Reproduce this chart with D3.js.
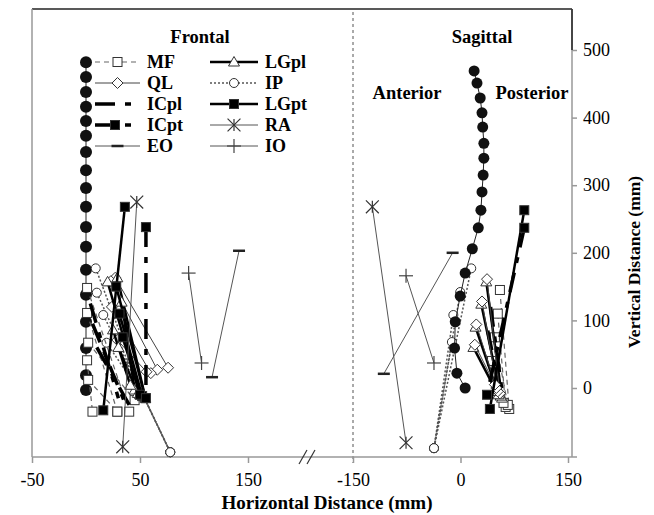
<!DOCTYPE html>
<html>
<head>
<meta charset="utf-8">
<script src="https://cdn.jsdelivr.net/npm/d3@7"></script>
<style>
  body { margin: 0; background: #fff; }
  svg text { font-family: "Liberation Serif", "Times New Roman", serif; }
</style>
</head>
<body>
<div id="chart"></div>
<script>
// ---- data (mm) ----
// spine (vertebral centres)
const frontalSpineX = [0, 0, 0, 0, 0, 0, 0, 0, 0, 0, 0, 0, 0, 0, 0, 0, 0, 0];
const frontalSpineY = [482, 460, 438, 416, 395, 373, 349, 322, 296, 268, 238, 209, 175, 138, 98, 59, 19, -3];
const sagittalSpineX = [19, 23, 27.5, 30, 31, 32.6, 32.6, 31.6, 30, 28.5, 24.8, 16.5, 6.5, -0.4, -7.3, -8.3, -5, 6.5];
const sagittalSpineY = [469, 451, 429, 407, 386, 362, 340, 315, 290, 263, 237, 206, 170, 136, 98, 59, 22, 0];

// muscle fascicles, each one a list of [x, y] points (origin ... insertion)
const frontalMF = [[[1, 148], [40, -35]], [[1, 111], [29, -35]], [[2, 67], [45, -18]], [[1, 41], [6, -35]], [[2, 12], [29, -35]]];
const frontalQL = [[[27, 163], [76, 30]], [[23, 158], [66, 27]], [[24, 120], [60, 22]], [[29, 71], [56, 24]]];
const frontalICpl = [[[4, 125], [30, -15]], [[6, 95], [36, -22]], [[10, 60], [40, -25]]];
const frontalICpt = [[[55.5, 238], [55.5, -15]]];
const frontalEO = [[[141.7, 203], [116.7, 16]]];
const frontalLGpl = [[[20, 157], [50, -10]], [[29, 163], [55, -15]], [[33, 127], [45, -3]], [[25, 86], [41, 4]], [[30, 60], [48, -8]]];
const frontalIP = [[[9, 177], [55, -18], [78, -95]], [[10, 141], [55, -18], [78, -95]], [[16, 108], [55, -18], [78, -95]], [[19, 67], [55, -18], [78, -95]]];
const frontalLGpt = [[[36, 268], [16, -33]], [[28, 150], [55, -15]], [[31, 110], [52, -12]], [[34, 75], [50, -10]]];
const frontalRA = [[[47, 275], [34, -87]]];
const frontalIO = [[[95, 170], [107, 37]]];

const sagittalMF = [[[55, 145], [68, -31]], [[52, 110], [63, -28]], [[48, 75], [66, -25]], [[44, 40], [60, -22]]];
const sagittalQL = [[[37, 161], [55, -8]], [[30, 128], [52, -5]], [[22, 94], [50, 0]], [[20, 64], [48, 5]]];
const sagittalICpl = [[[42, 120], [60, -20]], [[38, 85], [58, -18]]];
const sagittalICpt = [[[89, 237], [37, -10]]];
const sagittalEO = [[[-11, 200], [-107, 21]]];
const sagittalLGpl = [[[36, 157], [58, -15]], [[29, 124], [56, -12]], [[21, 90], [53, -10]], [[18, 60], [50, -5]]];
const sagittalIP = [[[15, 177], [-37, -89]], [[-0.4, 142], [-37, -89]], [[-10, 108], [-37, -89]], [[-12, 68], [-37, -89]]];
const sagittalLGpt = [[[89, 263], [41, -31]]];
const sagittalRA = [[[-123, 268], [-76, -81]]];
const sagittalIO = [[[-76, 166], [-37, 37]]];

const muscleNames = ["MF", "QL", "ICpl", "ICpt", "EO", "LGpl", "IP", "LGpt", "RA", "IO"];
const frontalTicks = [-50, 50, 150];
const sagittalTicks = [-150, 0, 150];
const yTicks = [0, 100, 200, 300, 400, 500];

// ---- look of each muscle ----
const style = {
  MF:   {stroke: "#666", width: 1.2, dash: "5,4", marker: "sqOpen"},
  QL:   {stroke: "#444", width: 1, dash: null, marker: "diamond"},
  ICpl: {stroke: "#000", width: 3.5, dash: "20,10,6,10", marker: null},
  ICpt: {stroke: "#000", width: 3.5, dash: "20,10,6,10", marker: "sqFill"},
  EO:   {stroke: "#555", width: 1, dash: null, marker: "minus"},
  LGpl: {stroke: "#000", width: 2.5, dash: null, marker: "triangle"},
  IP:   {stroke: "#555", width: 1.5, dash: "2,2", marker: "circleOpen"},
  LGpt: {stroke: "#000", width: 2.5, dash: null, marker: "sqFill"},
  RA:   {stroke: "#555", width: 1, dash: null, marker: "star"},
  IO:   {stroke: "#555", width: 1, dash: null, marker: "plus"}
};

const W = 654, H = 515;
const svg = d3.select("#chart").append("svg")
  .attr("width", W).attr("height", H);

// scales: two panels sharing one vertical axis
const xL = d3.scaleLinear().domain([-50, 150]).range([32, 248]);
const xR = d3.scaleLinear().domain([-150, 150]).range([353, 568]);
const y = d3.scaleLinear().domain([0, 500]).range([388, 50]);
const plotLeft = 32, plotRight = 572, plotTop = 9, plotBottom = 457;

// frame
svg.append("line").attr("x1", plotLeft).attr("x2", plotRight).attr("y1", plotTop).attr("y2", plotTop)
  .attr("stroke", "#222").attr("stroke-width", 1.5);
svg.append("line").attr("x1", plotLeft).attr("x2", plotLeft).attr("y1", plotTop).attr("y2", plotBottom)
  .attr("stroke", "#999").attr("stroke-width", 1.5);

// panel divider
svg.append("line").attr("x1", xR(-150)).attr("x2", xR(-150)).attr("y1", plotTop + 3).attr("y2", plotBottom + 6)
  .attr("stroke", "#555").attr("stroke-width", 1).attr("stroke-dasharray", "3,3");

// bottom axes
const axB = svg.append("g").attr("transform", `translate(0,${plotBottom})`);
axB.append("g").call(d3.axisBottom(xL).tickValues(frontalTicks).tickFormat(d => String(d)).tickSize(6).tickPadding(10));
axB.append("g").call(d3.axisBottom(xR).tickValues(sagittalTicks).tickFormat(d => String(d)).tickSize(6).tickPadding(10));
axB.selectAll("g").attr("font-family", null).attr("font-size", null);
axB.selectAll(".domain").remove();
axB.selectAll("line").attr("stroke", "#999").attr("stroke-width", 1.5);
axB.selectAll("text").attr("fill", "#000").style("font-size", "18px");
axB.append("line").attr("x1", plotLeft).attr("x2", plotRight + 5).attr("y1", 0).attr("y2", 0)
  .attr("stroke", "#999").attr("stroke-width", 1.5);
// axis break marks
[303, 311].forEach(bx => {
  axB.append("line").attr("x1", bx - 4).attr("x2", bx + 4).attr("y1", 7).attr("y2", -7)
    .attr("stroke", "#333").attr("stroke-width", 1.2);
});

// right y axis
const axR = svg.append("g").attr("transform", `translate(${plotRight},0)`);
axR.call(d3.axisRight(y).tickValues(yTicks).tickFormat(d => String(d)).tickSize(5).tickPadding(6));
axR.attr("font-family", null).attr("font-size", null);
axR.select(".domain").remove();
axR.append("line").attr("x1", 0).attr("x2", 0).attr("y1", plotTop).attr("y2", plotBottom)
  .attr("stroke", "#999").attr("stroke-width", 1.5);
axR.append("line").attr("x1", 0).attr("x2", 0).attr("y1", plotTop).attr("y2", y(500))
  .attr("stroke", "#222").attr("stroke-width", 1.5);
axR.selectAll(".tick line").attr("stroke", "#999").attr("stroke-width", 1.5);
axR.selectAll("text").attr("fill", "#000").style("font-size", "18px");

// axis titles
svg.append("text").attr("x", 327).attr("y", 509).attr("text-anchor", "middle")
  .style("font-size", "19px").style("font-weight", "bold").text("Horizontal Distance (mm)");
svg.append("text").attr("transform", "translate(640,262) rotate(-90)").attr("text-anchor", "middle")
  .style("font-size", "17.5px").style("font-weight", "bold").text("Vertical Distance (mm)");

// marker shapes
function drawMarker(g, type, cx, cy) {
  const s = 4.5;
  if (!type) return;
  if (type === "sqOpen" || type === "sqFill") {
    g.append("rect").attr("x", cx - s).attr("y", cy - s).attr("width", 2 * s).attr("height", 2 * s)
      .attr("fill", type === "sqFill" ? "#000" : "#fff").attr("stroke", "#333").attr("stroke-width", 1);
  } else if (type === "diamond") {
    g.append("path").attr("d", `M${cx},${cy - 5.5}L${cx + 5.5},${cy}L${cx},${cy + 5.5}L${cx - 5.5},${cy}Z`)
      .attr("fill", "#fff").attr("stroke", "#333").attr("stroke-width", 1);
  } else if (type === "triangle") {
    g.append("path").attr("d", `M${cx},${cy - 5.5}L${cx + 5.5},${cy + 4}L${cx - 5.5},${cy + 4}Z`)
      .attr("fill", "#fff").attr("stroke", "#333").attr("stroke-width", 1);
  } else if (type === "circleOpen") {
    g.append("circle").attr("cx", cx).attr("cy", cy).attr("r", 4.5)
      .attr("fill", "#fff").attr("stroke", "#333").attr("stroke-width", 1);
  } else if (type === "star") {
    g.append("path").attr("transform", `translate(${cx},${cy})`)
      .attr("d", d3.symbol(d3.symbolTimes, 110)())
      .attr("fill", "none").attr("stroke", "#333").attr("stroke-width", 1.2);
    g.append("line").attr("x1", cx).attr("x2", cx).attr("y1", cy - 6).attr("y2", cy + 6)
      .attr("stroke", "#333").attr("stroke-width", 1.2);
  } else if (type === "minus") {
    g.append("line").attr("x1", cx - 6).attr("x2", cx + 6).attr("y1", cy).attr("y2", cy)
      .attr("stroke", "#222").attr("stroke-width", 2.5);
  } else if (type === "plus") {
    g.append("line").attr("x1", cx - 7).attr("x2", cx + 7).attr("y1", cy).attr("y2", cy)
      .attr("stroke", "#444").attr("stroke-width", 1.2);
    g.append("line").attr("x1", cx).attr("x2", cx).attr("y1", cy - 7).attr("y2", cy + 7)
      .attr("stroke", "#444").attr("stroke-width", 1.2);
  }
}

const lineGen = (xs) => d3.line().x(d => xs(d[0])).y(d => y(d[1]));

function drawMuscle(g, xs, name, fascicles) {
  const st = style[name];
  fascicles.forEach(f => {
    g.append("path").attr("d", lineGen(xs)(f))
      .attr("fill", "none").attr("stroke", st.stroke).attr("stroke-width", st.width)
      .attr("stroke-dasharray", st.dash);
  });
  fascicles.forEach(f => {
    drawMarker(g, st.marker, xs(f[0][0]), y(f[0][1]));
    const e = f[f.length - 1];
    drawMarker(g, st.marker, xs(e[0]), y(e[1]));
  });
}

function drawSpine(g, xs, X, Y, r) {
  const pts = X.map((v, i) => [v, Y[i]]);
  g.append("path").attr("d", lineGen(xs)(pts)).attr("fill", "none")
    .attr("stroke", "#222").attr("stroke-width", 1);
  g.selectAll("circle.vert").data(pts).enter().append("circle").attr("class", "vert")
    .attr("cx", d => xs(d[0])).attr("cy", d => y(d[1])).attr("r", r).attr("fill", "#111");
}

// frontal panel
const gF = svg.append("g");
drawSpine(gF, xL, frontalSpineX, frontalSpineY, 6);
drawMuscle(gF, xL, "IP", frontalIP);
drawMuscle(gF, xL, "MF", frontalMF);
drawMuscle(gF, xL, "QL", frontalQL);
drawMuscle(gF, xL, "ICpl", frontalICpl);
drawMuscle(gF, xL, "LGpl", frontalLGpl);
drawMuscle(gF, xL, "LGpt", frontalLGpt);
drawMuscle(gF, xL, "ICpt", frontalICpt);
drawMuscle(gF, xL, "RA", frontalRA);
drawMuscle(gF, xL, "EO", frontalEO);
drawMuscle(gF, xL, "IO", frontalIO);

// sagittal panel
const gS = svg.append("g");
drawMuscle(gS, xR, "IP", sagittalIP);
drawSpine(gS, xR, sagittalSpineX, sagittalSpineY, 5.5);
drawMuscle(gS, xR, "MF", sagittalMF);
drawMuscle(gS, xR, "ICpl", sagittalICpl);
drawMuscle(gS, xR, "LGpl", sagittalLGpl);
drawMuscle(gS, xR, "QL", sagittalQL);
drawMuscle(gS, xR, "LGpt", sagittalLGpt);
drawMuscle(gS, xR, "ICpt", sagittalICpt);
drawMuscle(gS, xR, "RA", sagittalRA);
drawMuscle(gS, xR, "EO", sagittalEO);
drawMuscle(gS, xR, "IO", sagittalIO);

// panel labels
const bold = (x, yy, t) => svg.append("text").attr("x", x).attr("y", yy).attr("text-anchor", "middle")
  .style("font-size", "18.5px").style("font-weight", "bold").text(t);
bold(200, 43, "Frontal");
bold(482, 43, "Sagittal");
bold(407, 99, "Anterior");
bold(532, 99, "Posterior");

// legend
const leg = svg.append("g");
muscleNames.forEach((name, i) => {
  const col = Math.floor(i / 5), row = i % 5;
  const x0 = col === 0 ? 95 : 210, len = col === 0 ? 45 : 48;
  const ly = 62 + row * 21;
  const st = style[name];
  const gi = leg.append("g");
  gi.append("rect").attr("x", x0 - 2).attr("y", ly - 8).attr("width", len + 4).attr("height", 16).attr("fill", "#fff");
  gi.append("line").attr("x1", x0).attr("x2", x0 + len).attr("y1", ly).attr("y2", ly)
    .attr("stroke", st.stroke).attr("stroke-width", st.width).attr("stroke-dasharray", st.dash);
  drawMarker(gi, st.marker, x0 + (name === "ICpt" ? 20 : len / 2), ly);
  gi.append("text").attr("x", x0 + len + 7).attr("y", ly + 6)
    .style("font-size", "18px").style("font-weight", "bold").text(name);
});
</script>
</body>
</html>
